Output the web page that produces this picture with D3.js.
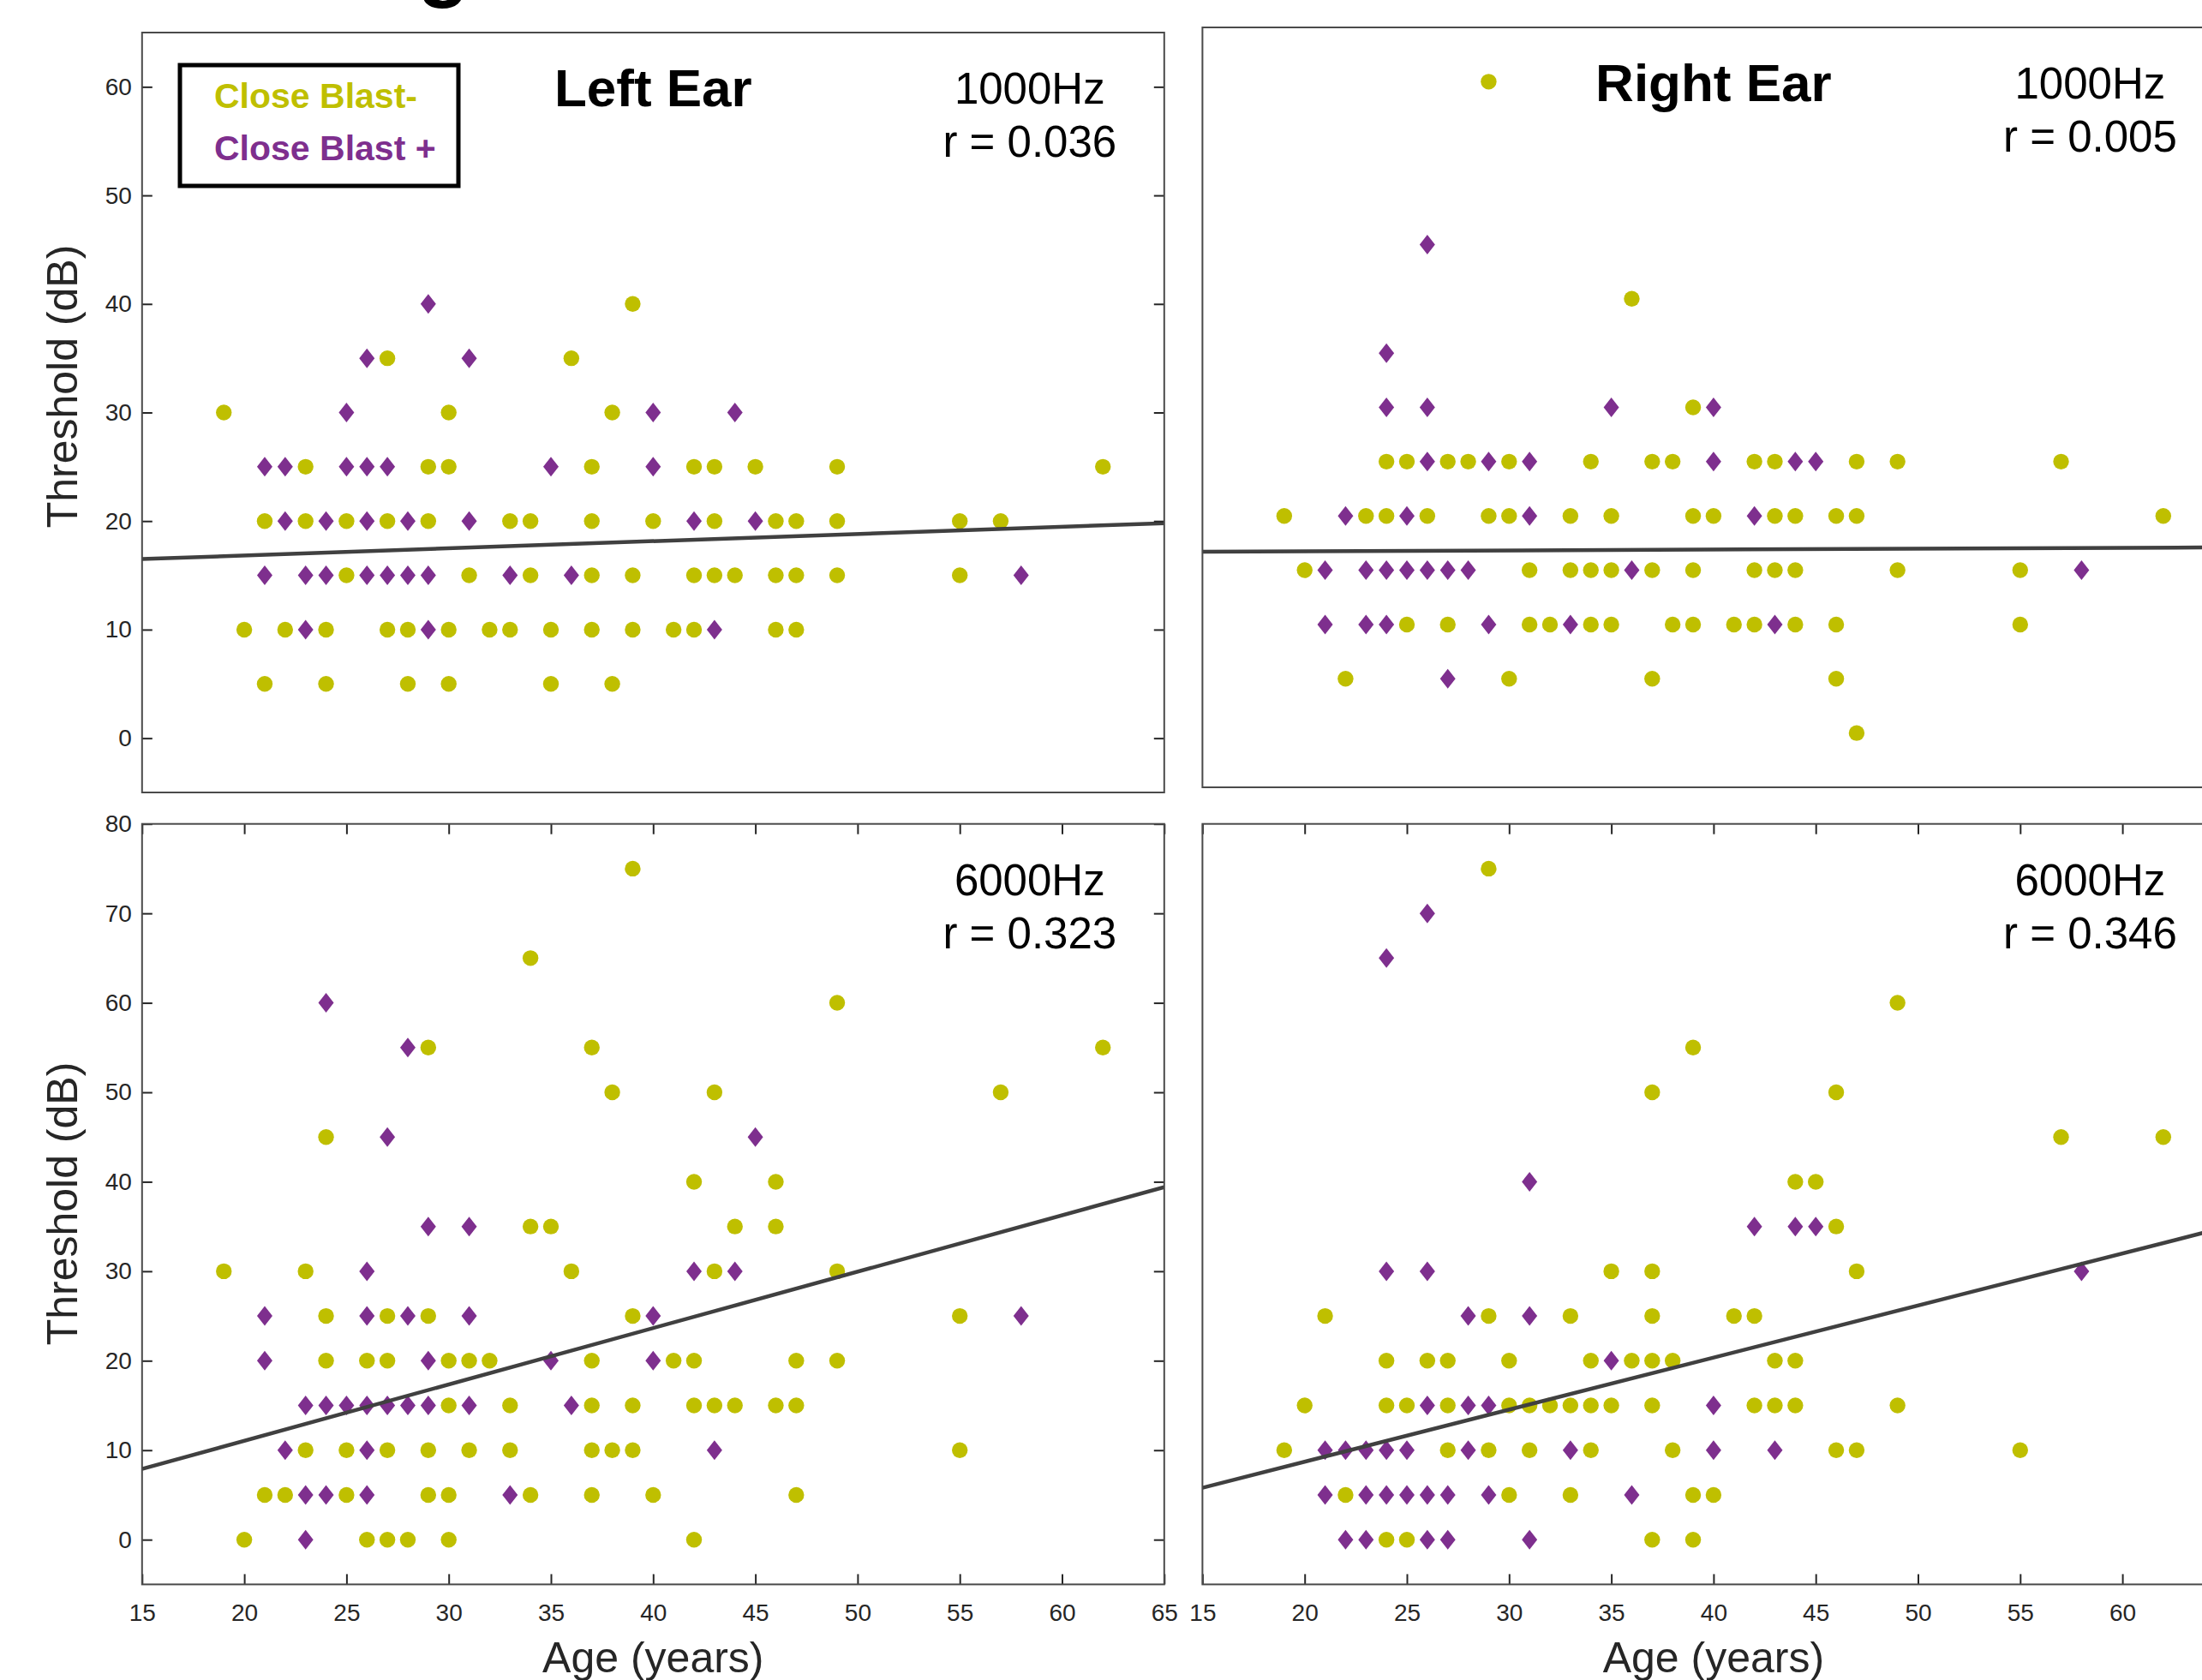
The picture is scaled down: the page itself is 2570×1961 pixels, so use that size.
<!DOCTYPE html>
<html>
<head>
<meta charset="utf-8">
<script src="https://cdn.jsdelivr.net/npm/d3@7"></script>
<style>
  html, body { margin: 0; padding: 0; background: #ffffff; }
  svg { display: block; }
  text { font-family: "Liberation Sans", Arial, Helvetica, sans-serif; }
</style>
</head>
<body>
<svg id="chart" width="2570" height="1961"></svg>
<script>
// ---- Data: [age (years), threshold (dB)] per participant ----
const groups = ["Close Blast-", "Close Blast +"];
const ageTicks = [15, 20, 25, 30, 35, 40, 45, 50, 55, 60, 65];
const thresholdTicks1k = [0, 10, 20, 30, 40, 50, 60];
const thresholdTicks6k = [0, 10, 20, 30, 40, 50, 60, 70, 80];
const earTitles = ["Left Ear", "Right Ear"];
const freqLabels = ["1000Hz", "1000Hz", "6000Hz", "6000Hz"];
const rLabels = ["r = 0.036", "r = 0.005", "r = 0.323", "r = 0.346"];

const leftEar1000Neg = [[19,30],[39,40],[27,35],[36,35],[30,30],[38,30],[23,25],[29,25],[30,25],[37,25],[42,25],[43,25],[45,25],[49,25],[62,25],
  [21,20],[23,20],[25,20],[27,20],[29,20],[33,20],[34,20],[37,20],[40,20],[43,20],[46,20],[47,20],[49,20],[55,20],[57,20],
  [25,15],[31,15],[34,15],[37,15],[39,15],[42,15],[43,15],[44,15],[46,15],[47,15],[49,15],[55,15],
  [20,10],[22,10],[24,10],[27,10],[28,10],[30,10],[32,10],[33,10],[35,10],[37,10],[39,10],[41,10],[42,10],[46,10],[47,10],
  [21,5],[24,5],[28,5],[30,5],[35,5],[38,5]];
const leftEar1000Pos = [[29,40],[26,35],[31,35],[25,30],[40,30],[44,30],[21,25],[22,25],[25,25],[26,25],[27,25],[35,25],[40,25],
  [22,20],[24,20],[26,20],[28,20],[31,20],[42,20],[45,20],
  [21,15],[23,15],[24,15],[26,15],[27,15],[28,15],[29,15],[33,15],[36,15],[58,15],
  [23,10],[29,10],[43,10]];

const rightEar1000Neg = [[29,60],[36,40],[39,30],
  [24,25],[25,25],[27,25],[28,25],[30,25],[34,25],[37,25],[38,25],[42,25],[43,25],[47,25],[49,25],[57,25],
  [19,20],[23,20],[24,20],[26,20],[29,20],[30,20],[33,20],[35,20],[39,20],[40,20],[43,20],[44,20],[46,20],[47,20],[62,20],
  [20,15],[31,15],[33,15],[34,15],[35,15],[37,15],[39,15],[42,15],[43,15],[44,15],[49,15],[55,15],
  [25,10],[27,10],[31,10],[32,10],[34,10],[35,10],[38,10],[39,10],[41,10],[42,10],[44,10],[46,10],[55,10],
  [22,5],[30,5],[37,5],[46,5],[47,0]];
const rightEar1000Pos = [[26,45],[24,35],[24,30],[26,30],[35,30],[40,30],
  [26,25],[29,25],[31,25],[40,25],[44,25],[45,25],
  [22,20],[25,20],[31,20],[42,20],
  [21,15],[23,15],[24,15],[25,15],[26,15],[27,15],[28,15],[36,15],[58,15],
  [21,10],[23,10],[24,10],[29,10],[33,10],[43,10],[27,5]];

const leftEar6000Neg = [[39,75],[34,65],[49,60],[29,55],[37,55],[62,55],[38,50],[43,50],[57,50],[24,45],[42,40],[46,40],
  [34,35],[35,35],[44,35],[46,35],[19,30],[23,30],[36,30],[43,30],[49,30],
  [24,25],[27,25],[29,25],[39,25],[55,25],
  [24,20],[26,20],[27,20],[30,20],[31,20],[32,20],[37,20],[41,20],[42,20],[47,20],[49,20],
  [30,15],[33,15],[37,15],[39,15],[42,15],[43,15],[44,15],[46,15],[47,15],
  [23,10],[25,10],[27,10],[29,10],[31,10],[33,10],[37,10],[38,10],[39,10],[55,10],
  [21,5],[22,5],[25,5],[29,5],[30,5],[34,5],[37,5],[40,5],[47,5],
  [20,0],[26,0],[27,0],[28,0],[30,0],[42,0]];
const leftEar6000Pos = [[24,60],[28,55],[27,45],[45,45],[29,35],[31,35],[26,30],[42,30],[44,30],
  [21,25],[26,25],[28,25],[31,25],[40,25],[58,25],
  [21,20],[29,20],[35,20],[40,20],
  [23,15],[24,15],[25,15],[26,15],[27,15],[28,15],[29,15],[31,15],[36,15],
  [22,10],[26,10],[43,10],[23,5],[24,5],[26,5],[33,5],[23,0]];

const rightEar6000Neg = [[29,75],[49,60],[39,55],[37,50],[46,50],[57,45],[62,45],[44,40],[45,40],[46,35],
  [35,30],[37,30],[47,30],[21,25],[29,25],[33,25],[37,25],[41,25],[42,25],
  [24,20],[26,20],[27,20],[30,20],[34,20],[36,20],[37,20],[38,20],[43,20],[44,20],
  [20,15],[24,15],[25,15],[27,15],[30,15],[31,15],[32,15],[33,15],[34,15],[35,15],[37,15],[42,15],[43,15],[44,15],[49,15],
  [19,10],[27,10],[29,10],[31,10],[34,10],[38,10],[46,10],[47,10],[55,10],
  [22,5],[30,5],[33,5],[39,5],[40,5],[24,0],[25,0],[37,0],[39,0]];
const rightEar6000Pos = [[26,70],[24,65],[31,40],[42,35],[44,35],[45,35],[24,30],[26,30],[58,30],
  [28,25],[31,25],[35,20],[26,15],[28,15],[29,15],[40,15],
  [21,10],[22,10],[23,10],[24,10],[25,10],[28,10],[33,10],[40,10],[43,10],
  [21,5],[23,5],[24,5],[25,5],[26,5],[27,5],[29,5],[36,5],
  [22,0],[23,0],[26,0],[27,0],[31,0]];

// Least-squares fit lines, threshold (dB) at age 15 and at age 65
const fitAt15 = [16.5, 16.7, 7.9, 5.8];
const fitAt65 = [19.8, 17.1, 39.4, 34.9];

// ---- Layout & style ----
const colors = ["#bfbf00", "#7e2f8e"];
const axisColor = "#262626";
const panelW = 1193;
const panels = [
  { left: 165.8, top: 38,    h: 887, yDomain: [-5, 65], yTicks: thresholdTicks1k, yLabels: true,  xTicks: false, title: earTitles[0], neg: leftEar1000Neg,  pos: leftEar1000Pos },
  { left: 1403.4, top: 32,   h: 887, yDomain: [-5, 65], yTicks: null,             yLabels: false, xTicks: false, title: earTitles[1], neg: rightEar1000Neg, pos: rightEar1000Pos },
  { left: 165.8, top: 961.7, h: 887.7, yDomain: [-5, 80], yTicks: thresholdTicks6k, yLabels: true,  xTicks: true, title: null, neg: leftEar6000Neg,  pos: leftEar6000Pos },
  { left: 1403.4, top: 961.7, h: 887.7, yDomain: [-5, 80], yTicks: null,            yLabels: false, xTicks: true, title: null, neg: rightEar6000Neg, pos: rightEar6000Pos }
];

const svg = d3.select("#chart");
svg.append("rect").attr("width", 2570).attr("height", 1961).attr("fill", "#fff");

// Figure heading, mostly above the top edge of the page
svg.append("text")
  .attr("x", 487).attr("y", -11)
  .attr("font-size", 100).attr("font-weight", "bold").attr("fill", "#000")
  .text("g");

const diamond = "M0,-11.5L9,0L0,11.5L-9,0Z";

panels.forEach((p, i) => {
  const x = d3.scaleLinear().domain([15, 65]).range([0, panelW]);
  const y = d3.scaleLinear().domain(p.yDomain).range([p.h, 0]);
  const g = svg.append("g").attr("transform", `translate(${p.left},${p.top})`);

  const clipId = "clip" + i;
  g.append("clipPath").attr("id", clipId)
    .append("rect").attr("width", panelW).attr("height", p.h);

  const plot = g.append("g").attr("clip-path", `url(#${clipId})`);

  // Close Blast- : filled circles
  plot.selectAll("circle.neg").data(p.neg).join("circle")
    .attr("class", "neg")
    .attr("cx", d => x(d[0])).attr("cy", d => y(d[1]))
    .attr("r", 9.2).attr("fill", colors[0]);

  // Close Blast + : filled diamonds
  plot.selectAll("path.pos").data(p.pos).join("path")
    .attr("class", "pos")
    .attr("transform", d => `translate(${x(d[0])},${y(d[1])})`)
    .attr("d", diamond).attr("fill", colors[1]);

  // Regression line
  plot.append("line")
    .attr("x1", x(15)).attr("y1", y(fitAt15[i]))
    .attr("x2", x(65)).attr("y2", y(fitAt65[i]))
    .attr("stroke", "#404040").attr("stroke-width", 4.5);

  // Y ticks (inward, mirrored on the right)
  if (p.yTicks) {
    const ya = g.append("g")
      .call(d3.axisLeft(y).tickValues(p.yTicks).tickSize(-12).tickSizeOuter(0).tickPadding(12));
    const yr = g.append("g").attr("transform", `translate(${panelW},0)`)
      .call(d3.axisRight(y).tickValues(p.yTicks).tickSize(-12).tickSizeOuter(0).tickFormat(""));
    [ya, yr].forEach(a => {
      a.select(".domain").remove();
      a.selectAll("line").attr("stroke", axisColor).attr("stroke-width", 2);
      a.selectAll("text").attr("font-size", 28).attr("fill", axisColor)
        .attr("font-family", "'Liberation Sans', Arial, sans-serif");
    });
  }

  // X ticks (inward, mirrored on top)
  if (p.xTicks) {
    const xb = g.append("g").attr("transform", `translate(0,${p.h})`)
      .call(d3.axisBottom(x).tickValues(ageTicks).tickSize(-12).tickSizeOuter(0).tickPadding(22.6));
    const xt = g.append("g")
      .call(d3.axisTop(x).tickValues(ageTicks).tickSize(-12).tickSizeOuter(0).tickFormat(""));
    [xb, xt].forEach(a => {
      a.select(".domain").remove();
      a.selectAll("line").attr("stroke", axisColor).attr("stroke-width", 2);
      a.selectAll("text").attr("font-size", 28).attr("fill", axisColor)
        .attr("font-family", "'Liberation Sans', Arial, sans-serif");
    });
  }

  // Axes box
  g.append("rect").attr("width", panelW).attr("height", p.h)
    .attr("fill", "none").attr("stroke", "#4a4a4a").attr("stroke-width", 2);

  // Panel title
  if (p.title) {
    g.append("text").attr("x", panelW / 2).attr("y", 85.5)
      .attr("text-anchor", "middle").attr("font-size", 62).attr("font-weight", "bold")
      .attr("fill", "#000").text(p.title);
  }

  // Frequency and correlation annotation
  g.append("text").attr("x", 1036).attr("y", 83)
    .attr("text-anchor", "middle").attr("font-size", 51).attr("fill", "#000")
    .text(freqLabels[i]);
  g.append("text").attr("x", 1036).attr("y", 145)
    .attr("text-anchor", "middle").attr("font-size", 51).attr("fill", "#000")
    .text(rLabels[i]);

  // X axis label
  if (p.xTicks) {
    g.append("text").attr("x", panelW / 2).attr("y", p.h + 102.6)
      .attr("text-anchor", "middle").attr("font-size", 50).attr("fill", axisColor)
      .text("Age (years)");
  }
});

// Y axis labels
[451, 1405].forEach(cy => {
  svg.append("text")
    .attr("transform", `translate(90,${cy}) rotate(-90)`)
    .attr("text-anchor", "middle").attr("font-size", 50).attr("fill", axisColor)
    .text("Threshold (dB)");
});

// Legend
const legend = svg.append("g").attr("transform", "translate(210,76)");
legend.append("rect").attr("width", 325).attr("height", 141)
  .attr("fill", "#fff").attr("stroke", "#000").attr("stroke-width", 5);
groups.forEach((name, k) => {
  legend.append("text").attr("x", 40).attr("y", 50 + k * 61)
    .attr("font-size", 41).attr("font-weight", "bold").attr("fill", colors[k])
    .text(name);
});
</script>
</body>
</html>
